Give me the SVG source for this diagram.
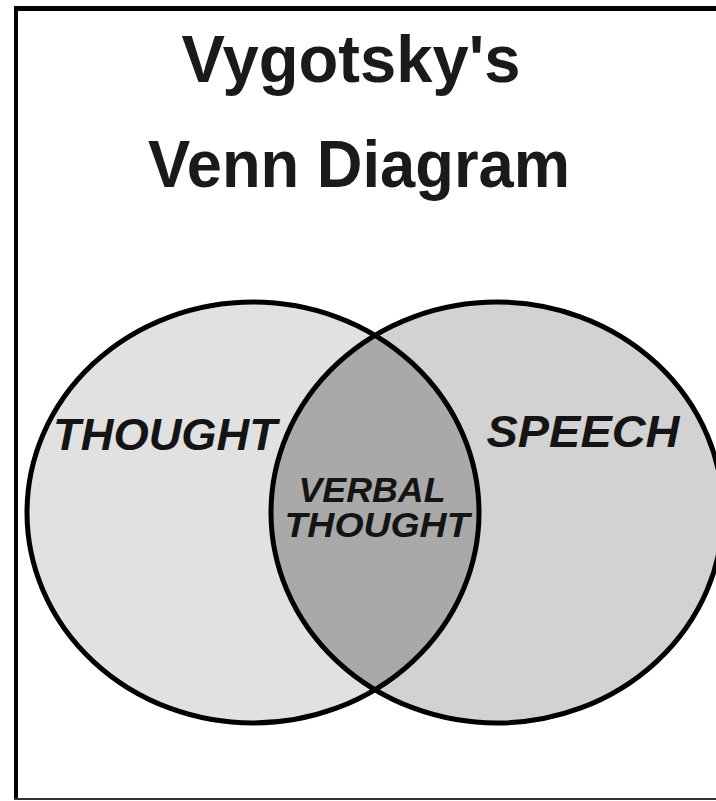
<svg xmlns="http://www.w3.org/2000/svg" width="716" height="801" viewBox="0 0 716 801">
<style>
.title{font-family:"Liberation Sans",Arial,sans-serif;font-weight:bold;font-size:67px;fill:#1a1a1a;text-anchor:middle}
.lbl{font-family:"Liberation Sans",Arial,sans-serif;font-weight:bold;font-style:italic;fill:#141414;text-anchor:middle}
.ring{fill:none;stroke:#000;stroke-width:5}
</style>
<defs>
<clipPath id="clipL"><ellipse cx="253" cy="512.5" rx="226" ry="210.5"/></clipPath>
</defs>
<rect width="716" height="801" fill="#fff"/>
<g id="frame">
<line x1="14" y1="8.5" x2="716" y2="8.5" stroke="#000" stroke-width="5"/>
<line x1="16" y1="6" x2="16" y2="800" stroke="#000" stroke-width="4"/>
<line x1="14" y1="799" x2="716" y2="799" stroke="#333" stroke-width="2"/>
</g>
<g id="title">
<text class="title" x="351" y="82" textLength="339" lengthAdjust="spacingAndGlyphs">Vygotsky's</text>
<text class="title" x="359" y="187" textLength="422" lengthAdjust="spacingAndGlyphs">Venn Diagram</text>
</g>
<g id="thought">
<ellipse cx="253" cy="512.5" rx="226" ry="210.5" fill="#e1e1e1"/>
</g>
<g id="speech">
<ellipse cx="497" cy="512.5" rx="226" ry="210.5" fill="#d2d2d2"/>
</g>
<g id="verbal-thought">
<ellipse cx="497" cy="512.5" rx="226" ry="210.5" fill="#a9a9a9" clip-path="url(#clipL)"/>
</g>
<g id="outlines">
<ellipse class="ring" cx="253" cy="512.5" rx="226" ry="210.5"/>
<ellipse class="ring" cx="497" cy="512.5" rx="226" ry="210.5"/>
</g>
<g id="labels">
<text class="lbl" x="165" y="450" font-size="45" textLength="224" lengthAdjust="spacingAndGlyphs">THOUGHT</text>
<text class="lbl" x="583" y="447" font-size="45" textLength="193" lengthAdjust="spacingAndGlyphs">SPEECH</text>
<text class="lbl" x="372" y="502" font-size="35" textLength="147" lengthAdjust="spacingAndGlyphs">VERBAL</text>
<text class="lbl" x="377" y="537" font-size="35" textLength="185" lengthAdjust="spacingAndGlyphs">THOUGHT</text>
</g>
</svg>
